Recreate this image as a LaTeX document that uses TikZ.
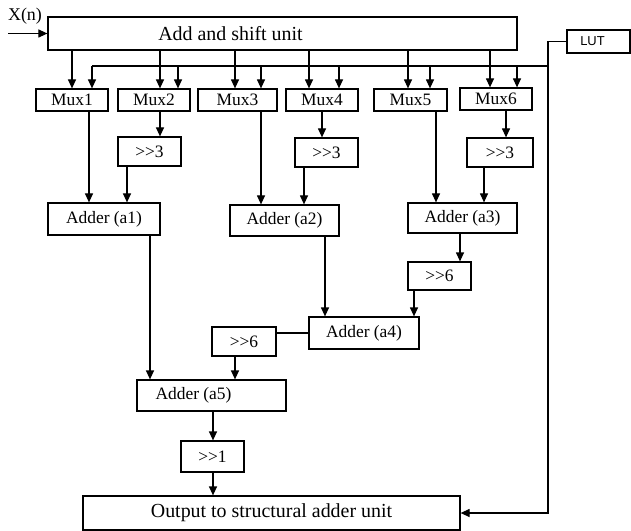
\documentclass[tikz,border=0pt]{standalone}
\usepackage{fontspec}
\setmainfont{Liberation Serif}
\newfontfamily\lutfont{Liberation Sans}
\usetikzlibrary{arrows.meta}
\newcommand\gtgt{>\kern0pt>}
\tikzset{
  box/.style={draw, line width=1.2bp, inner sep=0pt, font=\fontsize{17.5}{19}\selectfont},
  arr/.style={line width=1.2bp, -{Triangle[length=9bp,width=8bp]}},
  ln/.style={line width=1.2bp},
}
\begin{document}
\begin{tikzpicture}[x=1bp,y=-1bp]
\useasboundingbox (0,0) rectangle (631,531);
% top units
\node[box, minimum width=469bp, minimum height=33bp,
  label={[font=\fontsize{20}{22}\selectfont, xshift=-52bp]center:Add and shift unit}] (add) at (282.5,33.5) {};
\node[font=\fontsize{18}{20}\selectfont, inner sep=0pt] (xn) at (25,16) {X(n)};
\coordinate (xin) at (8,33.5);
\node[box, minimum width=63bp, minimum height=23bp,
  label={[font=\lutfont\fontsize{13}{15}\selectfont, xshift=-6bp]center:LUT}] (lut) at (598.5,41.5) {};
% muxes
\node[box, minimum width=72bp, minimum height=22bp] (m1) at (72,100) {Mux1};
\node[box, minimum width=72bp, minimum height=22bp] (m2) at (154,100) {Mux2};
\node[box, minimum width=79bp, minimum height=22bp] (m3) at (237.5,100) {Mux3};
\node[box, minimum width=72bp, minimum height=22bp] (m4) at (322,100) {Mux4};
\node[box, minimum width=73bp, minimum height=22bp] (m5) at (410.5,100) {Mux5};
\node[box, minimum width=72bp, minimum height=22bp] (m6) at (496,99) {Mux6};
% shifters
\node[box, minimum width=63bp, minimum height=29bp] (s1) at (149.5,151.5) {\gtgt3};
\node[box, minimum width=63bp, minimum height=29bp] (s2) at (326.5,152.5) {\gtgt3};
\node[box, minimum width=66bp, minimum height=29bp] (s3) at (500,152.5) {\gtgt3};
% adders
\node[box, minimum width=112bp, minimum height=32bp] (a1) at (104,219) {Adder (a1)};
\node[box, minimum width=109bp, minimum height=31bp] (a2) at (284.5,220.5) {Adder (a2)};
\node[box, minimum width=109bp, minimum height=30bp] (a3) at (462.5,218) {Adder (a3)};
\node[box, minimum width=63bp, minimum height=28bp] (s4) at (439.5,276) {\gtgt6};
\node[box, minimum width=110bp, minimum height=32bp] (a4) at (364,333) {Adder (a4)};
\node[box, minimum width=64bp, minimum height=29bp] (s5) at (244,341.5) {\gtgt6};
\node[box, minimum width=149bp, minimum height=31bp,
  label={[font=\fontsize{17.5}{19}\selectfont, xshift=-18bp]center:Adder (a5)}] (a5) at (211.5,395.5) {};
\node[box, minimum width=63bp, minimum height=31bp] (s6) at (212.5,456.5) {\gtgt1};
\node[box, minimum width=377bp, minimum height=34bp, font=\fontsize{20}{22}\selectfont] (out) at (271.5,513) {Output to structural adder unit};
% input
\draw[arr] (xin) -- (add.west);
% LUT bus
\coordinate (lo) at (548,513);
\coordinate (busR) at (548,66);
\coordinate (busL) at (92,66);
\draw[arr] (lut.west) -| (lo) -- (out.east);
\draw[ln] (busR) -- (busL);
\draw[arr] (busL) -- (busL |- m1.north);
\foreach \m/\dx in {m2/24, m3/23.5, m4/17, m5/19.5, m6/21}
  \draw[arr] ([xshift=\dx bp]\m.north |- busR) -- ([xshift=\dx bp]\m.north);
% add -> mux
\foreach \m/\dx in {m1/0, m2/6, m3/-2.5, m4/-13, m5/-2.5, m6/-6}
  \draw[arr] ([xshift=\dx bp]\m.north |- add.south) -- ([xshift=\dx bp]\m.north);
% mux outputs
\draw[arr] ([xshift=17bp]m1.south) -- ([xshift=17bp]m1.south |- a1.north);
\draw[arr] ([xshift=6bp]m2.south) -- ([xshift=6bp]m2.south |- s1.north);
\draw[arr] ([xshift=23.5bp]m3.south) -- ([xshift=23.5bp]m3.south |- a2.north);
\draw[arr] (m4.south) -- (m4.south |- s2.north);
\draw[arr] ([xshift=25.5bp]m5.south) -- ([xshift=25.5bp]m5.south |- a3.north);
\draw[arr] ([xshift=10bp]m6.south) -- ([xshift=10bp]m6.south |- s3.north);
% shifters to adders
\draw[arr] ([xshift=-22.5bp]s1.south) -- ([xshift=-22.5bp]s1.south |- a1.north);
\draw[arr] ([xshift=-22.5bp]s2.south) -- ([xshift=-22.5bp]s2.south |- a2.north);
\draw[arr] ([xshift=-16bp]s3.south) -- ([xshift=-16bp]s3.south |- a3.north);
% second level
\draw[arr] ([xshift=-2.5bp]a3.south) -- ([xshift=-2.5bp]a3.south |- s4.north);
\draw[arr] ([xshift=-25.5bp]s4.south) -- ([xshift=-25.5bp]s4.south |- a4.north);
\draw[arr] ([xshift=40.5bp]a2.south) -- ([xshift=40.5bp]a2.south |- a4.north);
\draw[ln] (a4.west) -- (s5.east |- a4.west);
\draw[arr] ([xshift=-9bp]s5.south) -- ([xshift=-9bp]s5.south |- a5.north);
\draw[arr] ([xshift=46bp]a1.south) -- ([xshift=46bp]a1.south |- a5.north);
\draw[arr] ([xshift=1.5bp]a5.south) -- ([xshift=1.5bp]a5.south |- s6.north);
\draw[arr] ([xshift=0.5bp]s6.south) -- ([xshift=0.5bp]s6.south |- out.north);
\end{tikzpicture}
\end{document}
